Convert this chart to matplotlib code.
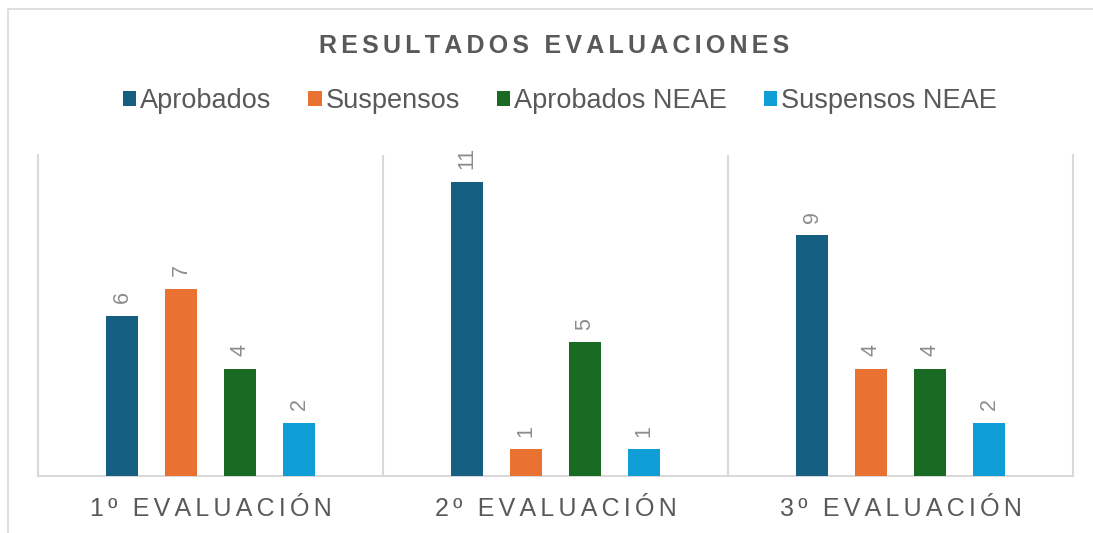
import numpy as np
import matplotlib.pyplot as plt
from matplotlib import patches

categories = ['1º EVALUACIÓN', '2º EVALUACIÓN', '3º EVALUACIÓN']
series_names = ['Aprobados', 'Suspensos', 'Aprobados NEAE', 'Suspensos NEAE']
aprobados = [6, 11, 9]
suspensos = [7, 1, 4]
aprobados_neae = [4, 5, 4]
suspensos_neae = [2, 1, 2]
colors = ['#156082', '#E97132', '#196B24', '#0F9ED5']

FONT = ['Liberation Sans', 'DejaVu Sans']
TEXT = '#595959'
GRID = '#d9d9d9'


def spaced(s, sep='\u2009'):
    # poor man's letter spacing
    return sep.join(s)


def main():
    plt.rcParams['font.family'] = FONT
    fig = plt.figure(figsize=(10.93, 5.33), dpi=100)
    W, H = 1093, 533
    ax = fig.add_axes([38 / W, 1 - 476 / H, (1073 - 38) / W, (476 - 155) / H])

    # outer chart border
    fig.patches.append(patches.Rectangle((8 / W, -0.1), 1.2, 1 - 9 / H + 0.1,
                                         transform=fig.transFigure, fill=False,
                                         edgecolor=GRID, linewidth=1.2))

    values = [aprobados, suspensos, aprobados_neae, suspensos_neae]
    x = np.arange(len(categories))
    step = 0.171
    width = 0.09
    for i, (name, vals, col) in enumerate(zip(series_names, values, colors)):
        pos = x + (i - 1.5) * step
        bars = ax.bar(pos, vals, width, color=col, label=name, zorder=3)
        for b, v in zip(bars, vals):
            ax.annotate(str(v), (b.get_x() + b.get_width() / 2, v),
                        xytext=(0, 9), textcoords='offset points',
                        ha='center', va='bottom', rotation=90,
                        fontsize=15.5, color='#8c8c8c')

    ax.set_xlim(-0.5, 2.5)
    ax.set_ylim(0, 12)
    ax.set_yticks([])
    ax.set_xticks(x)
    ax.set_xticklabels([spaced(c, '\u200a\u200a') for c in categories],
                       fontsize=18, color=TEXT)
    ax.tick_params(axis='x', length=0, pad=15)
    ax.set_xticks([0.5, 1.5], minor=True)
    ax.tick_params(axis='x', which='minor', length=0)
    ax.grid(axis='x', which='minor', color=GRID, linewidth=1.5)
    for side in ['left', 'right', 'bottom']:
        ax.spines[side].set_color(GRID)
        ax.spines[side].set_linewidth(1.5)
    ax.spines['top'].set_visible(False)

    fig.text(554 / W, 1 - 46 / H, spaced('RESULTADOS EVALUACIONES', '\u200a\u200a'),
             ha='center', va='center', fontsize=18, fontweight='bold', color=TEXT)

    leg = fig.legend(loc='center', bbox_to_anchor=(560 / W, 1 - 101 / H), ncol=4,
                     frameon=False, fontsize=19.5, handlelength=0.5, handleheight=0.5,
                     handletextpad=0.15, columnspacing=1.35)
    for t in leg.get_texts():
        t.set_color(TEXT)

    fig.savefig('out.png', dpi=100, facecolor='white')


if __name__ == '__main__':
    main()
